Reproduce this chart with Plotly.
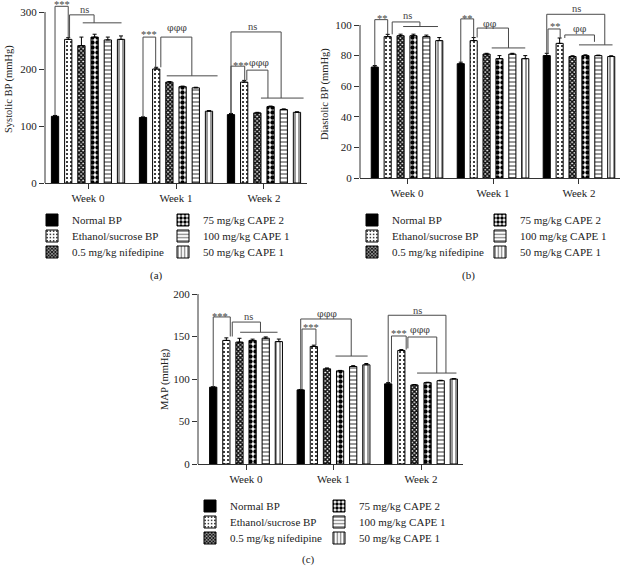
import plotly.graph_objects as go

# ---------------- data ----------------
weeks = ["Week 0", "Week 1", "Week 2"]
series_names = ["Normal BP", "Ethanol/sucrose BP", "0.5 mg/kg nifedipine",
                "75 mg/kg CAPE 2", "100 mg/kg CAPE 1", "50 mg/kg CAPE 1"]

# rows = series (same order as series_names), columns = weeks
systolic_mean = [[117, 115, 120], [252, 200, 177], [241, 177, 123],
                 [256, 169, 134], [251, 167, 129], [252, 126, 124]]
systolic_sem = [[1.5, 1, 2], [3, 3, 3], [15, 1, 1], [5, 1, 1], [5, 1, 1], [6, 1, 1]]

diastolic_mean = [[72.5, 74.7, 80], [92.4, 89.8, 88], [93, 81, 79.4],
                  [93, 78, 80], [92.4, 81, 80], [89.8, 78, 79.4]]
diastolic_sem = [[1, 1, 1.5], [1.5, 2, 3.5], [1, 0.5, 0.5], [1, 2, 0.5],
                 [1, 0.5, 0.3], [2, 2, 0.5]]

map_mean = [[90.4, 87.2, 94.3], [145.4, 138.3, 133.6], [143.4, 112, 93],
            [145.4, 109.6, 95.7], [148, 114.7, 98], [144, 116.7, 100]]
map_sem = [[0.5, 0.5, 1.5], [3, 1.5, 1], [4.5, 1, 0.5], [1.5, 0.5, 0.5],
           [1.5, 1, 0.5], [3, 1.5, 0.5]]

# significance brackets: (week, left slot, right slot, top, left foot, right foot)
# foot given as ("bar", series) -> drawn down to that bar's top
systolic_brackets = [
    (0, 0, 1, 310, ("bar", 0), ("bar", 1)),
    (0, 1.1, 2.96, 295, ("bar", 1), 281),
    (1, 0, 0.96, 256, ("bar", 0), ("bar", 1)),
    (1, 1.35, 3.7, 256, ("bar", 1), 188),
    (2, 0, 3.8, 265, ("bar", 0), 149),
    (2, 0, 1.04, 205, ("bar", 0), ("bar", 1)),
    (2, 1.2, 2.8, 198, ("bar", 1), 149),
]
systolic_spans = [(0, 2.1, 5.04, 281), (1, 1.8, 5.65, 188), (2, 2.27, 5.5, 149)]
systolic_marks = [(0, 0.5, 318, "***"), (0, 2.2, 305, "ns"), (1, 0.42, 265, "***"),
                  (1, 2.54, 272, "φφφ"), (2, 1.65, 274, "ns"), (2, 0.73, 212, "***"),
                  (2, 2.1, 212, "φφφ")]

diastolic_brackets = [
    (0, 0, 1, 103.5, ("bar", 0), ("bar", 1)),
    (0, 1.35, 3.5, 102, ("bar", 1), 99),
    (1, 0, 1, 104, ("bar", 0), ("bar", 1)),
    (1, 1.27, 3.7, 98, ("bar", 1), 85),
    (2, 0, 4.5, 107, ("bar", 0), 87),
    (2, 0.1, 1.04, 97.4, ("bar", 0), ("bar", 1)),
    (2, 1.4, 3.7, 93.5, ("bar", 1), 89),
]
diastolic_spans = [(0, 2.2, 4.9, 99), (1, 2.4, 5.0, 85), (2, 2.5, 5.1, 87)]
diastolic_marks = [(0, 0.6, 106.5, "**"), (0, 2.5, 106.5, "ns"), (1, 0.5, 106.5, "**"),
                   (1, 2.3, 101, "φφ"), (2, 2.3, 111, "ns"), (2, 0.7, 100.7, "**"),
                   (2, 2.6, 98, "φφ")]

map_brackets = [
    (0, 0, 1.3, 173, ("bar", 0), 150),
    (0, 1.45, 3.6, 167, 150, 155),
    (1, 0, 3.85, 170.6, ("bar", 0), 127),
    (1, 0.1, 1.16, 158.8, ("bar", 0), ("bar", 1)),
    (2, 0, 4.4, 175, ("bar", 0), 107),
    (2, 0.25, 1.37, 150.6, ("bar", 0), ("bar", 1)),
    (2, 1.5, 3.7, 149.4, 136, 107),
]
map_spans = [(0, 2.05, 4.9, 155), (1, 2.65, 5.1, 127), (2, 2.2, 5.2, 107)]
map_marks = [(0, 0.55, 177.6, "***"), (0, 2.65, 173, "ns"), (1, 2.0, 177.6, "φφφ"),
             (1, 0.77, 164.7, "***"), (2, 2.2, 181, "ns"), (2, 0.85, 156.5, "***"),
             (2, 2.4, 158.8, "φφφ")]

# ---------------- styling ----------------
W, H = 622, 566
FONT = "Liberation Serif"
TXT = "#222222"
LINE_C = "#4a4a4a"
BARGAP = 0.1
PITCH = (1 - BARGAP) / 6

styles = [
    dict(color="black", pattern=dict(shape="")),
    dict(color="white", pattern=dict(shape=".", fgcolor="black", size=4, solidity=0.2)),
    dict(color="white", pattern=dict(shape="x", fgcolor="#111111", size=3, solidity=0.75)),
    dict(color="white", pattern=dict(shape=".", fgcolor="black", size=5, solidity=0.6)),
    dict(color="white", pattern=dict(shape="-", fgcolor="black", size=4, solidity=0.2)),
    dict(color="white", pattern=dict(shape="|", fgcolor="black", size=4, solidity=0.2)),
]

def px_x(p):
    return p / W

def px_y(p):
    return 1 - p / H

panels = [
    dict(xa="x", ya="y", xdom=[px_x(45), px_x(307)], xr=[-0.489, 2.489],
         ydom=[px_y(183), 1.0], yr=[0, 183 / 0.57], ticks=[0, 100, 200, 300], top=300,
         mean=systolic_mean, sem=systolic_sem, brackets=systolic_brackets,
         spans=systolic_spans, marks=systolic_marks,
         title="Systolic BP (mmHg)", title_xy=(9, 89), label="(a)", label_xy=(157, 275),
         leg_x=32, leg_rows=(220, 236, 252), leg_col=131),
    dict(xa="x2", ya="y2", xdom=[px_x(360), px_x(620)], xr=[-0.547, 2.477],
         ydom=[px_y(178), 1.0], yr=[0, 178 / 1.53], ticks=[0, 20, 40, 60, 80, 100], top=100,
         mean=diastolic_mean, sem=diastolic_sem, brackets=diastolic_brackets,
         spans=diastolic_spans, marks=diastolic_marks,
         title="Diastolic BP (mmHg)", title_xy=(325, 94), label="(b)", label_xy=(468, 275),
         leg_x=352, leg_rows=(220, 236, 252), leg_col=128),
    dict(xa="x3", ya="y3", xdom=[px_x(198), px_x(463)], xr=[-0.549, 2.48],
         ydom=[px_y(464), px_y(294)], yr=[0, 200], ticks=[0, 50, 100, 150, 200], top=200,
         mean=map_mean, sem=map_sem, brackets=map_brackets,
         spans=map_spans, marks=map_marks,
         title="MAP (mmHg)", title_xy=(165, 379), label="(c)", label_xy=(308, 559),
         leg_x=190, leg_rows=(506, 522, 538), leg_col=129),
]

fig = go.Figure()
shapes = []
annotations = []
layout_extra = {}

def xpos(g, s):
    return g + (s - 2.5) * PITCH

def leg_key(n):
    return "legend" if n == 1 else f"legend{n}"

for p, P in enumerate(panels):
    for i, name in enumerate(series_names):
        row = i % 3
        leg_name = leg_key(3 * p + row + 1)
        st = styles[i]
        fig.add_trace(go.Bar(
            x=[0, 1, 2], y=P["mean"][i], name=name,
            xaxis=P["xa"], yaxis=P["ya"], legend=leg_name,
            marker=dict(color=st["color"], pattern=st["pattern"],
                        line=dict(color="black", width=1)),
            error_y=dict(type="data", array=P["sem"][i], arrayminus=[0, 0, 0],
                         symmetric=False, thickness=1, width=2, color="black"),
        ))
    # one horizontal legend per legend row (two entries each)
    for row in range(3):
        layout_extra[leg_key(3 * p + row + 1)] = dict(
            x=px_x(P["leg_x"]), y=px_y(P["leg_rows"][row]), xanchor="left",
            yanchor="middle", orientation="h", entrywidth=P["leg_col"] - 45,
            entrywidthmode="pixels", bgcolor="rgba(0,0,0,0)", borderwidth=0,
            font=dict(family=FONT, size=11, color=TXT), traceorder="normal",
        )
    # axes
    xkey = "xaxis" if p == 0 else f"xaxis{p + 1}"
    ykey = "yaxis" if p == 0 else f"yaxis{p + 1}"
    layout_extra[xkey] = dict(
        domain=P["xdom"], range=P["xr"], anchor=P["ya"], tickmode="array",
        tickvals=[0, 1, 2], ticktext=weeks, ticks="outside", ticklen=5, tickwidth=1,
        tickcolor="#333", showline=True, linecolor="#333", linewidth=1, automargin=False,
        showgrid=False, zeroline=False, tickfont=dict(family=FONT, size=11, color=TXT),
    )
    layout_extra[ykey] = dict(
        domain=P["ydom"], range=P["yr"], anchor=P["xa"], tickmode="array",
        tickvals=P["ticks"], ticks="outside", ticklen=5, tickwidth=1, tickcolor="#333",
        showline=False, showgrid=False, zeroline=False, automargin=False,
        tickfont=dict(family=FONT, size=11, color=TXT),
    )
    # y axis line (only up to the top tick)
    y0p, y1p = P["ydom"]
    ytop = y0p + (P["top"] - P["yr"][0]) / (P["yr"][1] - P["yr"][0]) * (y1p - y0p)
    shapes.append(dict(type="line", xref="paper", yref="paper",
                       x0=P["xdom"][0], x1=P["xdom"][0], y0=y0p, y1=ytop,
                       line=dict(color="#333", width=1)))

    def foot(v, g):
        if isinstance(v, tuple):
            i = v[1]
            return P["mean"][i][g] + P["sem"][i][g]
        return v

    for (g, sl, sr, top, fl, fr) in P["brackets"]:
        xl, xr_ = xpos(g, sl), xpos(g, sr)
        for (a0, b0, a1, b1) in [(xl, foot(fl, g), xl, top), (xl, top, xr_, top),
                                 (xr_, top, xr_, foot(fr, g))]:
            shapes.append(dict(type="line", xref=P["xa"], yref=P["ya"],
                               x0=a0, y0=b0, x1=a1, y1=b1,
                               line=dict(color=LINE_C, width=1)))
    for (g, sa, sb, yv) in P["spans"]:
        shapes.append(dict(type="line", xref=P["xa"], yref=P["ya"],
                           x0=xpos(g, sa), y0=yv, x1=xpos(g, sb), y1=yv,
                           line=dict(color=LINE_C, width=1)))
    for (g, s, yv, t) in P["marks"]:
        fam = "DejaVu Serif" if "φ" in t else FONT
        annotations.append(dict(x=xpos(g, s), y=yv, xref=P["xa"], yref=P["ya"], text=t,
                                showarrow=False, xanchor="center", yanchor="middle",
                                yshift=-3 if "*" in t else 0,
                                font=dict(family=fam, size=9.5 if "φ" in t else 10.5,
                                          color="#444")))
    # axis title and panel label
    tx, ty = P["title_xy"]
    annotations.append(dict(x=px_x(tx), y=px_y(ty), xref="paper", yref="paper",
                            text=P["title"], textangle=-90, showarrow=False,
                            xanchor="center", yanchor="middle",
                            font=dict(family=FONT, size=10.5, color=TXT)))
    lx, ly = P["label_xy"]
    annotations.append(dict(x=px_x(lx), y=px_y(ly), xref="paper", yref="paper",
                            text=P["label"], showarrow=False, xanchor="center",
                            yanchor="middle", font=dict(family=FONT, size=11, color=TXT)))

fig.update_layout(
    template="none",
    width=W, height=H, autosize=False,
    margin=dict(l=0, r=0, t=0, b=0, pad=0, autoexpand=False),
    paper_bgcolor="white", plot_bgcolor="white",
    barmode="group", bargap=BARGAP, bargroupgap=0.45,
    showlegend=True, shapes=shapes, annotations=annotations,
    font=dict(family=FONT, size=11, color=TXT),
    **layout_extra,
)

fig.write_html("out.html", config={"displayModeBar": False},
               post_script="document.body.style.margin='0px';document.body.style.padding='0px';")
